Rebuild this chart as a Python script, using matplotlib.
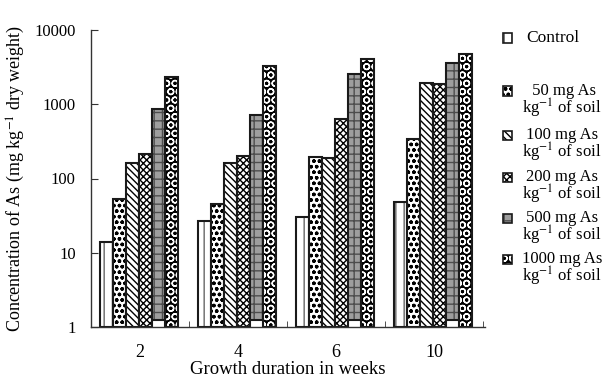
import numpy as np
import matplotlib.pyplot as plt
from matplotlib.patches import Rectangle
from matplotlib.ticker import NullLocator

plt.rcParams['font.family'] = 'Liberation Serif'
plt.rcParams['mathtext.fontset'] = 'stix'
plt.rcParams['hatch.linewidth'] = 1.0

weeks = ['2', '4', '6', '10']
control = [14, 27, 30, 49]
as50 = [53, 45, 197, 340]
as100 = [160, 160, 190, 1950]
as200 = [212, 203, 627, 1875]
as500 = [863, 716, 2555, 3563]
as1000 = [2306, 3305, 4066, 4750]

series = [control, as50, as100, as200, as500, as1000]
labels = ['Control',
          ' 50 mg As\nkg$^{-1}$ of soil',
          '100 mg As\nkg$^{-1}$ of soil',
          '200 mg As\nkg$^{-1}$ of soil',
          '500 mg As\nkg$^{-1}$ of soil',
          '1000 mg As\nkg$^{-1}$ of soil']

faces = ['white', 'white', 'white', 'white', '0.62', 'black']
hcols = ['0.4', 'black', 'black', 'black', '0.3', 'white']
hatches = ['||', 'ooo', '\\\\\\\\\\', 'xxxxx', '++', 'OO']
bottoms = [1, 1, 1, 1, 1.25, 1]
edge = '#1a1a1a'

fig = plt.figure(figsize=(6.03, 3.78), dpi=100)
ax = fig.add_axes([91/603, 51/378, 394/603, 297/378])

x = np.arange(len(weeks))
w = 0.134
for i, vals in enumerate(series):
    pos = x + (i - 2.5) * w - 0.01
    h = np.array(vals) - bottoms[i]
    ax.bar(pos, h, w, bottom=bottoms[i], color=faces[i], edgecolor=hcols[i],
           hatch=hatches[i], linewidth=0)
    ax.bar(pos, h, w, bottom=bottoms[i], fill=False, edgecolor=edge, linewidth=1.5)

ax.set_yscale('log')
ax.set_ylim(1, 10000)
ax.set_xlim(-0.5, 3.52)
ax.spines['top'].set_visible(False)
ax.spines['right'].set_visible(False)
for s in ['left', 'bottom']:
    ax.spines[s].set_linewidth(1.0)
    ax.spines[s].set_color('#333333')

ax.set_xticks(x, weeks)
ax.set_xticks([0.5, 1.5, 2.5, 3.5], minor=True)
ax.tick_params(axis='x', which='major', length=0, pad=12, labelsize=13)
ax.tick_params(axis='x', which='minor', direction='in', length=4, color='#333333')
ax.set_yticks([1, 10, 100, 1000, 10000], ['1', '10', '100', '1000', '10000'])
ax.yaxis.set_minor_locator(NullLocator())
ax.tick_params(axis='y', direction='in', length=5, pad=11, labelsize=12, color='#333333')

ax.set_xlabel('Growth duration in weeks', fontsize=13.5, labelpad=0)
ax.set_ylabel('Concentration of As (mg kg$^{-1}$ dry weight)', fontsize=13, labelpad=5)

# legend drawn by hand to match the layout
ys = [38, 91, 135, 177, 218, 259]
for i, lab in enumerate(labels):
    yc = ys[i]
    r = Rectangle((503/603, 1 - (yc + 4.5)/378), 9/603, 9/378, transform=fig.transFigure,
                  facecolor=faces[i], edgecolor=hcols[i], hatch=hatches[i], linewidth=0)
    fig.add_artist(r)
    r2 = Rectangle((503/603, 1 - (yc + 4.5)/378), 9/603, 9/378, transform=fig.transFigure,
                   fill=False, edgecolor=edge, linewidth=1.2)
    fig.add_artist(r2)
    if i == 0:
        fig.text(526/603, 1 - yc/378, lab, ha='left', va='center', fontsize=12.5)
    else:
        fig.text(562/603, 1 - (yc - 8)/378, lab, ha='center', va='top', fontsize=12,
                 multialignment='center', linespacing=0.85)

fig.savefig('out.png', dpi=100)
